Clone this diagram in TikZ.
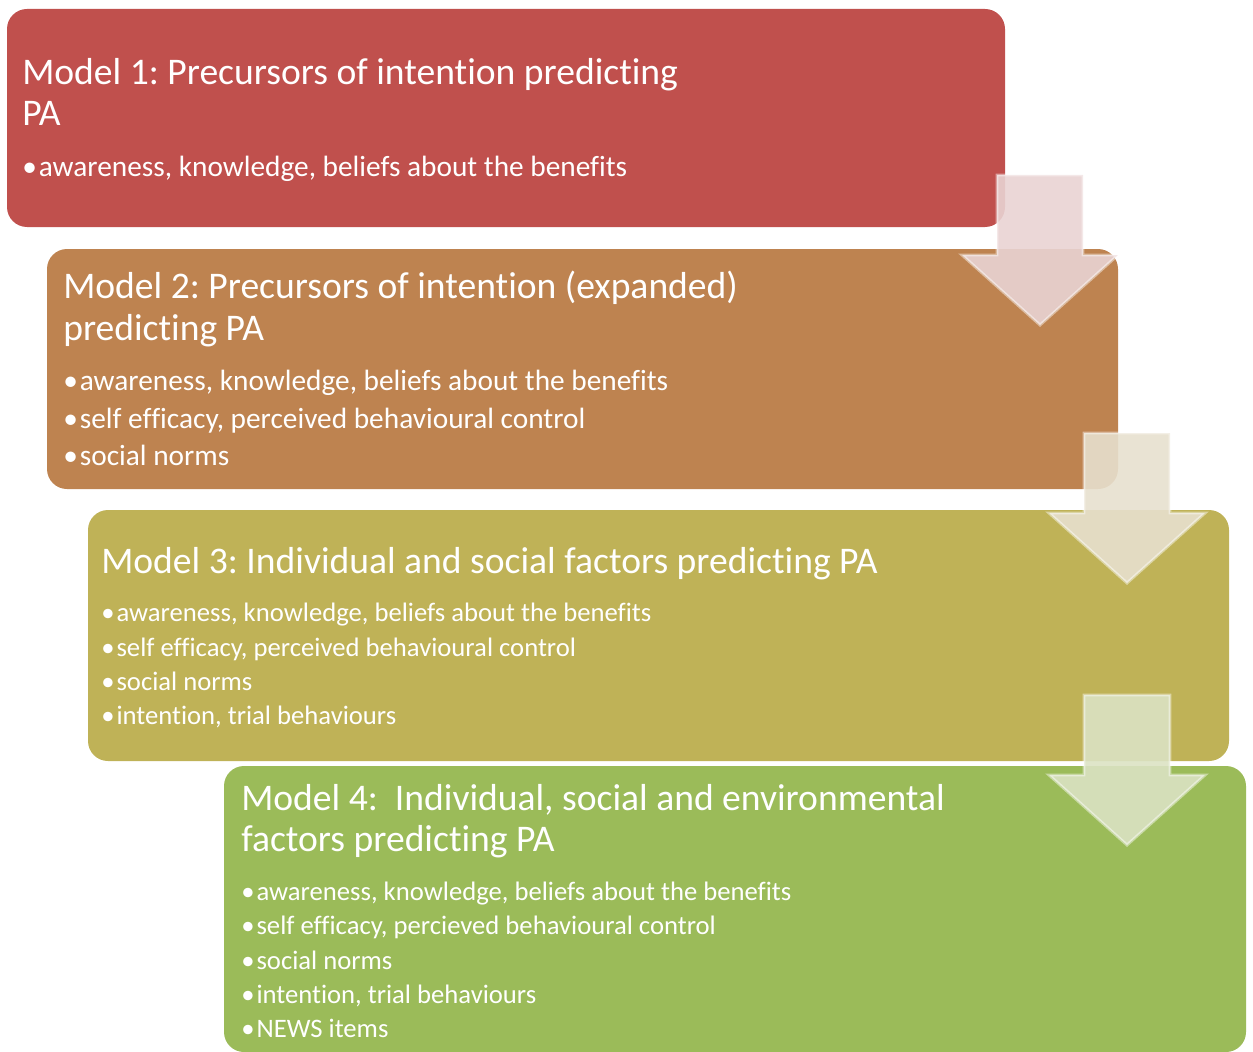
\documentclass[tikz,border=0pt]{standalone}
\usepackage{fontspec}
\setmainfont{Carlito}[Ligatures=NoCommon]
\usetikzlibrary{positioning, fit}
\definecolor{modelOneColor}{HTML}{C0504D}
\definecolor{modelTwoColor}{HTML}{BE8350}
\definecolor{modelThreeColor}{HTML}{BFB257}
\definecolor{modelFourColor}{HTML}{9BBB59}
\definecolor{arrowOneColor}{HTML}{E9D3D3}
\definecolor{arrowTwoColor}{HTML}{E7E0CE}
\definecolor{arrowThreeColor}{HTML}{DBE2C3}
\frenchspacing
\tikzset{
    model box/.style={
        rectangle,
        rounded corners=15pt,
        fill=#1,
        inner sep=0pt,
    },
    model title/.style={
        anchor=north west,
        inner sep=0pt,
        text=white,
        align=left,
        font=\fontsize{28.2}{31}\selectfont,
    },
    model items/.style n args={2}{
        anchor=north west,
        inner sep=0pt,
        text=white,
        align=left,
        font=\fontsize{#1}{#2}\selectfont,
    },
    step arrow/.style={
        fill=#1,
        fill opacity=0.9,
        draw=white,
        draw opacity=0.45,
        line width=2.2pt,
    },
}
% bullet in front of each item
\newcommand{\itemDot}{•\hspace{1.5pt}}
% block arrow: colour, x of centre line, y of top
\newcommand{\stepArrow}[3]{%
    \draw[step arrow=#1] (#2-43,#3) -- (#2+43,#3) -- (#2+43,#3+80)
        -- (#2+78,#3+80) -- (#2,#3+150) -- (#2-78,#3+80)
        -- (#2-43,#3+80) -- cycle;
}

\begin{document}
\begin{tikzpicture}[x=0.75pt, y=-0.75pt]
\useasboundingbox (0,0) rectangle (1253,1052);

% ── BOXES ──────────────────────────────────────────────────────────

\node[model box=modelOneColor, fit={(7,9) (1005,227)}] (model1) {};
\node[model box=modelTwoColor, fit={(47,249) (1118,489)}] (model2) {};
\node[model box=modelThreeColor, fit={(88,510) (1229,761)}] (model3) {};
\node[model box=modelFourColor, fit={(224,766) (1246,1052)}] (model4) {};

% ── TEXT ───────────────────────────────────────────────────────────

\node[model title] (model1-title) at (22,58) {Model 1: Precursors of intention predicting\\PA\strut};
\node[model items={22}{28.1}, below=13pt of model1-title.south west, anchor=north west] (model1-items) {%
    \itemDot awareness, knowledge, beliefs about the benefits};

\node[model title] (model2-title) at (63,271) {Model 2: Precursors of intention (expanded)\\predicting PA\strut};
\node[model items={22}{28.1}, below=13pt of model2-title.south west, anchor=north west] (model2-items) {%
    \itemDot awareness, knowledge, beliefs about the benefits\\
    \itemDot self efficacy, perceived behavioural control\\
    \itemDot social norms};

\node[model title] (model3-title) at (101,544) {Model 3: Individual and social factors predicting PA\strut};
\node[model items={20}{25.7}, below=13pt of model3-title.south west, anchor=north west] (model3-items) {%
    \itemDot awareness, knowledge, beliefs about the benefits\\
    \itemDot self efficacy, perceived behavioural control\\
    \itemDot social norms\\
    \itemDot intention, trial behaviours};

\node[model title] (model4-title) at (241,784) {Model 4:\ \ Individual, social and environmental\\factors predicting PA\strut};
\node[model items={20}{25.7}, below=13pt of model4-title.south west, anchor=north west] (model4-items) {%
    \itemDot awareness, knowledge, beliefs about the benefits\\
    \itemDot self efficacy, percieved behavioural control\\
    \itemDot social norms\\
    \itemDot intention, trial behaviours\\
    \itemDot NEWS items};

% ── ARROWS ─────────────────────────────────────────────────────────

\stepArrow{arrowOneColor}{1040}{175}
\stepArrow{arrowTwoColor}{1127}{433}
\stepArrow{arrowThreeColor}{1127}{695}

\end{tikzpicture}
\end{document}
